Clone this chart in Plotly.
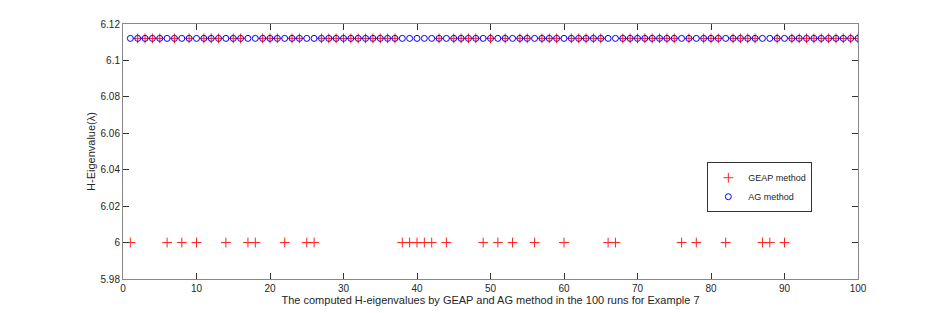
import plotly.graph_objects as go

runs = list(range(1, 101))
geap_low_runs = [1, 6, 8, 10, 14, 17, 18, 22, 25, 26, 38, 39, 40, 41, 42, 44, 49, 51, 53,
                 56, 60, 66, 67, 76, 78, 82, 87, 88, 90]
high_value = 6.1121
low_value = 6.0
geap_values = [low_value if r in geap_low_runs else high_value for r in runs]
ag_values = [high_value for r in runs]

x_ticks = [0, 10, 20, 30, 40, 50, 60, 70, 80, 90, 100]
y_ticks = [5.98, 6.0, 6.02, 6.04, 6.06, 6.08, 6.1, 6.12]
y_tick_labels = ["5.98", "6", "6.02", "6.04", "6.06", "6.08", "6.1", "6.12"]

font = "Liberation Sans, Arial, sans-serif"

fig = go.Figure()
fig.add_trace(go.Scatter(
    x=runs, y=geap_values, mode="markers", name="GEAP method",
    marker=dict(symbol="cross-thin-open", size=7, color="#ff2020",
                line=dict(color="#ff2020", width=1)),
))
fig.add_trace(go.Scatter(
    x=runs, y=ag_values, mode="markers", name="AG method",
    marker=dict(symbol="circle-open", size=6, color="blue",
                line=dict(color="blue", width=1)),
))

axis_common = dict(
    showgrid=False, zeroline=False, showline=True, linecolor="#888888", linewidth=1,
    mirror="ticks", ticks="inside", ticklen=6, tickcolor="#333333", tickwidth=1,
    tickfont=dict(family=font, size=10, color="#262626"), automargin=False,
)

fig.update_layout(
    width=948, height=313,
    margin=dict(l=115, r=98, t=16, b=42, autoexpand=False),
    paper_bgcolor="white", plot_bgcolor="white",
    font=dict(family=font, size=11, color="#262626"),
    xaxis=dict(range=[0, 100], tickvals=x_ticks,
               title=dict(text="The computed H-eigenvalues by GEAP and AG method in the 100 runs for Example 7",
                          font=dict(size=11), standoff=0),
               **axis_common),
    yaxis=dict(range=[5.98, 6.12], tickvals=y_ticks, ticktext=y_tick_labels,
               title=dict(text="H-Eigenvalue(λ)", font=dict(size=11), standoff=2),
               **axis_common),
    legend=dict(x=0.795, y=0.36, xanchor="left", yanchor="middle",
                bgcolor="white", bordercolor="#333333", borderwidth=1,
                font=dict(family=font, size=9, color="#262626"),
                itemwidth=30, tracegroupgap=0),
    showlegend=True,
)

fig.write_html("out.html")
